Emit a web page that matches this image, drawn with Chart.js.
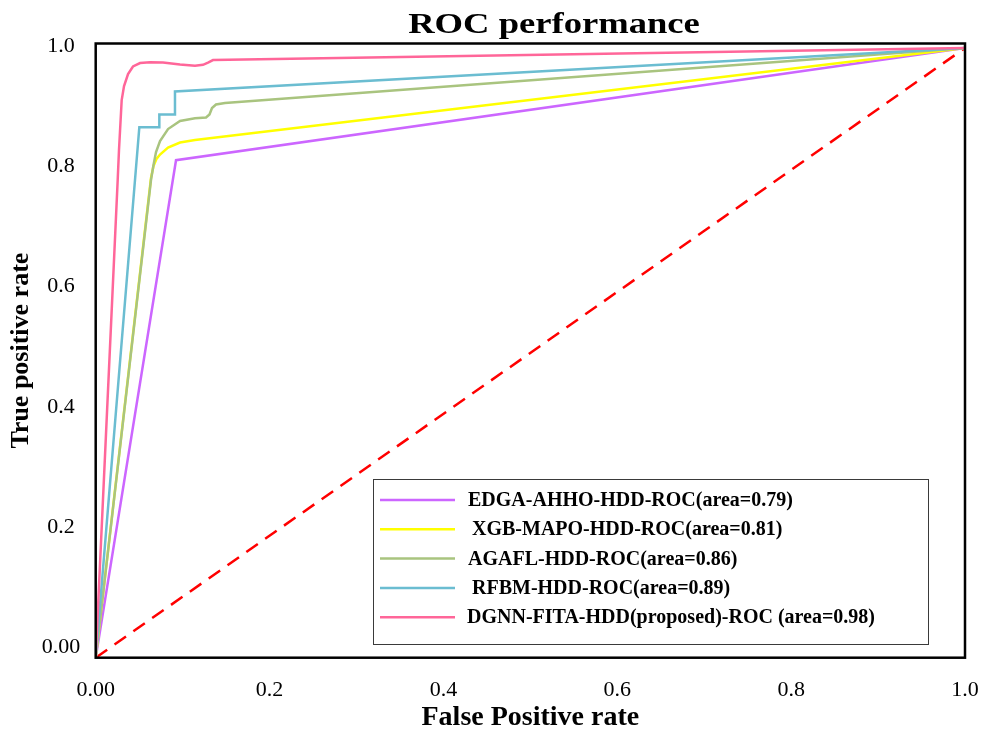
<!DOCTYPE html>
<html>
<head>
<meta charset="utf-8">
<script src="https://cdn.jsdelivr.net/npm/chart.js@4.4.1/dist/chart.umd.min.js"></script>
<style>
  html, body { margin: 0; padding: 0; background: #ffffff; }
  canvas { display: block; }
</style>
</head>
<body>
<canvas id="roc" width="985" height="733"></canvas>
<script>
// ---------- data ----------
const chartTitle = 'ROC performance';
const xAxisTitle = 'False Positive rate';
const yAxisTitle = 'True positive rate';

const xTickValues = [0, 0.2, 0.4, 0.6, 0.8, 1.0];
const xTickLabels = ['0.00', '0.2', '0.4', '0.6', '0.8', '1.0'];
const yTickValues = [0, 0.2, 0.4, 0.6, 0.8, 1.0];
const yTickLabels = ['0.00', '0.2', '0.4', '0.6', '0.8', '1.0'];

const seriesNames = [
  'EDGA-AHHO-HDD-ROC(area=0.79)',
  'XGB-MAPO-HDD-ROC(area=0.81)',
  'AGAFL-HDD-ROC(area=0.86)',
  'RFBM-HDD-ROC(area=0.89)',
  'DGNN-FITA-HDD(proposed)-ROC (area=0.98)'
];

const edgaFpr = [0, 0.0924, 1];
const edgaTpr = [0, 0.816, 1];

const xgbFpr = [0, 0.0636, 0.0665, 0.0699, 0.0740, 0.0832, 0.0970, 0.1142, 1];
const xgbTpr = [0, 0.7868, 0.8065, 0.8180, 0.8253, 0.8368, 0.8450, 0.8491, 1];

const agaflFpr = [0, 0.0636, 0.0665, 0.0694, 0.0740, 0.0832, 0.0970, 0.1142, 0.1269, 0.1309, 0.1338, 0.1384, 0.1487, 1];
const agaflTpr = [0, 0.7835, 0.8081, 0.8294, 0.8475, 0.8671, 0.8803, 0.8847, 0.8860, 0.8909, 0.9016, 0.9073, 0.9098, 1];

const rfbmFpr = [0, 0.0502, 0.0732, 0.0732, 0.0912, 0.0912, 1];
const rfbmTpr = [0, 0.8700, 0.8700, 0.8909, 0.8909, 0.9287, 1];

const dgnnFpr = [0, 0.0253, 0.0268, 0.0299, 0.0326, 0.0372, 0.0429, 0.0510, 0.0625, 0.0774, 0.0970, 0.1142, 0.1234, 0.1292, 0.1349, 1];
const dgnnTpr = [0, 0.7835, 0.8327, 0.9147, 0.9377, 0.9573, 0.9697, 0.9754, 0.9765, 0.9762, 0.9729, 0.9710, 0.9724, 0.9762, 0.9803, 1];

const chanceFpr = [0, 1];
const chanceTpr = [0, 1];

const seriesColors = ['#CC66FF', '#FFFF00', '#A9C47F', '#6BBDD1', '#FF6699'];
const chanceColor = '#FF0000';

// ---------- build ----------
const toPts = (xs, ys) => xs.map((x, i) => ({ x: x, y: ys[i] }));
const curveX = [edgaFpr, xgbFpr, agaflFpr, rfbmFpr, dgnnFpr];
const curveY = [edgaTpr, xgbTpr, agaflTpr, rfbmTpr, dgnnTpr];

const datasets = seriesNames.map((name, i) => ({
  label: name,
  data: toPts(curveX[i], curveY[i]),
  borderColor: seriesColors[i],
  backgroundColor: seriesColors[i],
  borderWidth: 2.5,
  pointRadius: 0,
  tension: 0,
  fill: false,
  order: 5 - i,
  inLegend: true
}));
datasets.push({
  label: 'chance',
  data: toPts(chanceFpr, chanceTpr),
  borderColor: chanceColor,
  borderWidth: 2.5,
  borderDash: [14, 9],
  pointRadius: 0,
  fill: false,
  order: 10,
  inLegend: false
});

const serif = '"Liberation Serif", "Times New Roman", serif';

const framePlugin = {
  id: 'frame',
  afterDatasetsDraw(chart) {
    const { ctx, chartArea: a } = chart;
    ctx.save();
    ctx.strokeStyle = '#000';
    ctx.lineWidth = 2.5;
    ctx.strokeRect(a.left, a.top, a.right - a.left, a.bottom - a.top);
    ctx.restore();
  }
};

const titleLegendPlugin = {
  id: 'titleLegend',
  afterDraw(chart) {
    const ctx = chart.ctx;
    ctx.save();
    // title
    ctx.fillStyle = '#000';
    ctx.font = 'bold 30px ' + serif;
    ctx.textAlign = 'center';
    ctx.textBaseline = 'alphabetic';
    ctx.translate(554, 33);
    ctx.scale(1.22, 1);
    ctx.fillText(chartTitle, 0, 0);
    ctx.restore();

    // legend box
    ctx.save();
    ctx.strokeStyle = '#3a3a3a';
    ctx.lineWidth = 1;
    ctx.strokeRect(373.5, 479.5, 555, 165);
    ctx.font = 'bold 20px ' + serif;
    ctx.textAlign = 'left';
    ctx.textBaseline = 'middle';
    const shifts = [0, 4, 0, 4, -1];
    let row = 0;
    chart.data.datasets.forEach((ds) => {
      if (!ds.inLegend) return;
      const y = 500 + row * 29.3;
      ctx.strokeStyle = ds.borderColor;
      ctx.lineWidth = 2.5;
      ctx.beginPath();
      ctx.moveTo(380, y);
      ctx.lineTo(455, y);
      ctx.stroke();
      ctx.fillStyle = '#000';
      ctx.fillText(ds.label, 468 + shifts[row], y + 1);
      row++;
    });
    ctx.restore();
  }
};

new Chart(document.getElementById('roc'), {
  type: 'line',
  data: { datasets: datasets },
  options: {
    responsive: false,
    animation: false,
    parsing: true,
    layout: { padding: { left: 0, right: 20, top: 43.5, bottom: 0 } },
    plugins: {
      legend: { display: false },
      title: { display: false },
      tooltip: { enabled: false }
    },
    scales: {
      x: {
        type: 'linear',
        position: 'bottom',
        min: 0,
        max: 1,
        afterBuildTicks: (s) => { s.ticks = xTickValues.map(v => ({ value: v })); },
        afterFit: (s) => { s.height = 75.3; s.paddingRight = 0; s.paddingLeft = 0; },
        grid: { display: false, drawTicks: false },
        border: { display: false },
        ticks: {
          padding: 19,
          autoSkip: false,
          maxRotation: 0,
          color: '#000',
          font: { family: serif, size: 22 },
          callback: (v, i) => xTickLabels[i]
        },
        title: {
          display: true,
          text: xAxisTitle,
          color: '#000',
          font: { family: serif, size: 28, weight: 'bold', lineHeight: 1.1 },
          padding: { top: 0, bottom: 0 }
        }
      },
      y: {
        type: 'linear',
        display: false,
        min: 0,
        max: 1.0074
      },
      yLabels: {
        type: 'linear',
        position: 'left',
        min: -0.017,
        max: 1.0045,
        afterBuildTicks: (s) => { s.ticks = yTickValues.map(v => ({ value: v })); },
        afterFit: (s) => { s.width = 95.7; },
        grid: { display: false, drawTicks: false },
        border: { display: false },
        ticks: {
          padding: 15.5,
          crossAlign: 'center',
          autoSkip: false,
          color: '#000',
          font: { family: serif, size: 22 },
          callback: (v, i) => yTickLabels[i]
        },
        title: {
          display: true,
          text: yAxisTitle,
          color: '#000',
          font: { family: serif, size: 26, weight: 'bold' },
          padding: { top: 6, bottom: 0 }
        }
      }
    }
  },
  plugins: [framePlugin, titleLegendPlugin]
});
</script>
</body>
</html>
